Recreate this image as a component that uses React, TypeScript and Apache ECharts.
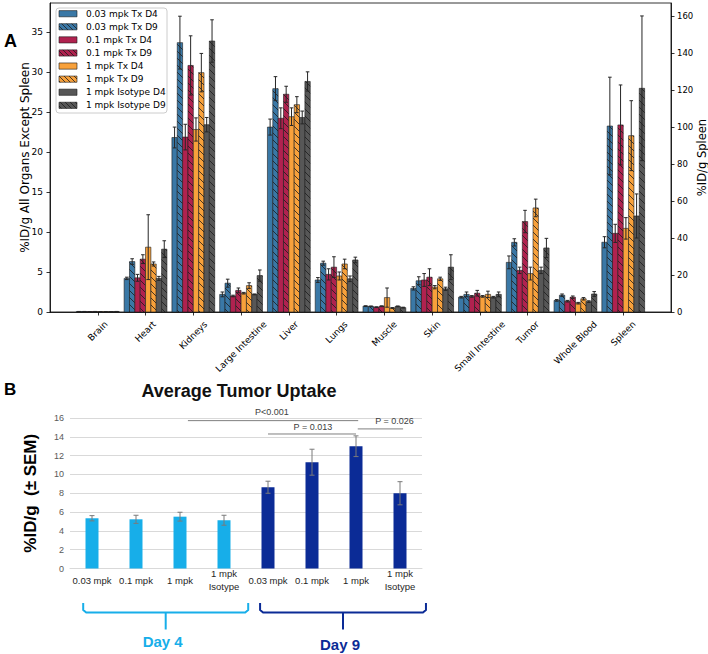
import React, { useEffect, useRef } from 'react';
import * as echarts from 'echarts';

// ---------- Panel A data ----------
const organs = ['Brain', 'Heart', 'Kidneys', 'Large Intestine', 'Liver', 'Lungs', 'Muscle', 'Skin', 'Small Intestine', 'Tumor', 'Whole Blood', 'Spleen'];
const groupNames = ['0.03 mpk Tx D4', '0.03 mpk Tx D9', '0.1 mpk Tx D4', '0.1 mpk Tx D9', '1 mpk Tx D4', '1 mpk Tx D9', '1 mpk Isotype D4', '1 mpk Isotype D9'];

const tx003D4 = [0.06, 4.2, 21.8, 2.2, 23.1, 4.0, 0.73, 2.95, 1.85, 6.2, 1.45, 37.7];
const tx003D4Err = [0.01, 0.15, 1.3, 0.3, 1.0, 0.3, 0.05, 0.2, 0.1, 0.8, 0.1, 3.0];
const tx003D9 = [0.06, 6.3, 33.65, 3.6, 27.9, 6.1, 0.7, 3.9, 2.2, 8.7, 2.1, 100.5];
const tx003D9Err = [0.01, 0.35, 3.3, 0.5, 1.5, 0.25, 0.05, 0.5, 0.3, 0.45, 0.15, 26.4];
const tx01D4 = [0.05, 4.27, 21.85, 2.0, 24.2, 4.7, 0.6, 4.0, 1.95, 5.2, 1.35, 42.5];
const tx01D4Err = [0.01, 0.43, 1.6, 0.1, 1.3, 0.7, 0.05, 0.8, 0.1, 0.4, 0.1, 4.9];
const tx01D9 = [0.06, 6.6, 30.8, 2.7, 27.2, 5.6, 0.72, 4.35, 2.35, 11.3, 1.85, 101.1];
const tx01D9Err = [0.01, 0.55, 3.7, 0.3, 1.0, 1.3, 0.05, 1.05, 0.35, 1.4, 0.15, 21.6];
const tx1D4 = [0.05, 8.1, 22.8, 2.35, 24.4, 4.5, 1.8, 3.1, 1.95, 4.8, 1.1, 45.2];
const tx1D4Err = [0.01, 4.05, 1.45, 0.1, 1.1, 0.5, 1.2, 0.2, 0.1, 0.8, 0.1, 5.8];
const tx1D9 = [0.05, 6.0, 29.9, 3.3, 25.9, 6.0, 0.5, 4.15, 2.2, 13.0, 1.65, 95.3];
const tx1D9Err = [0.01, 0.25, 2.4, 0.35, 1.0, 0.6, 0.05, 0.2, 0.4, 1.1, 0.15, 18.9];
const iso1D4 = [0.05, 4.2, 23.4, 2.2, 24.3, 4.15, 0.7, 2.9, 1.85, 5.2, 1.3, 51.9];
const iso1D4Err = [0.01, 0.25, 0.9, 0.05, 0.8, 0.35, 0.05, 0.2, 0.1, 0.4, 0.1, 11.9];
const iso1D9 = [0.06, 7.85, 33.85, 4.55, 28.8, 6.5, 0.55, 5.6, 2.2, 8.0, 2.25, 120.9];
const iso1D9Err = [0.01, 1.05, 2.65, 0.7, 1.2, 0.35, 0.05, 1.55, 0.3, 1.2, 0.3, 39.1];

const leftAxisMax = 38.6;
const rightAxisMax = 167;

// ---------- Panel B data ----------
const tumorCats = ['0.03 mpk', '0.1 mpk', '1 mpk', '1 mpk\nIsotype', '0.03 mpk', '0.1 mpk', '1 mpk', '1 mpk\nIsotype'];
const tumorDay = [4, 4, 4, 4, 9, 9, 9, 9];
const tumorMeans = [5.34, 5.23, 5.51, 5.13, 8.64, 11.3, 13.0, 8.0];
const tumorSem = [0.28, 0.43, 0.47, 0.53, 0.64, 1.38, 1.1, 1.23];

const sigLabels = ['P<0.001', 'P = 0.013', 'P = 0.026'];
const sigFrom = [2.18, 4.0, 6.04];
const sigTo = [6.05, 6.0, 7.07];
const sigLevel = [15.72, 14.3, 14.84];
const sigTextX = [4.09, 5.02, 6.875];
const sigTextY = [16.6, 15.09, 15.72];

const dayLabels = ['Day 4', 'Day 9'];
const dayFrom = [-0.2, 3.82];
const dayTo = [3.55, 7.59];

// ---------- styles ----------
const groupColors = ['#3a78a6', '#3a78a6', '#b0224f', '#b0224f', '#f8a13b', '#f8a13b', '#575757', '#575757'];
const groupHatched = [false, true, false, true, false, true, false, true];
const day4Color = '#17aee9';
const day9Color = '#0b2b96';
const MPL_FONT = 'DejaVu Sans';
const XL_FONT = 'Liberation Sans';

const groupVals = [tx003D4, tx003D9, tx01D4, tx01D9, tx1D4, tx1D9, iso1D4, iso1D9];
const groupErrs = [tx003D4Err, tx003D9Err, tx01D4Err, tx01D9Err, tx1D4Err, tx1D9Err, iso1D4Err, iso1D9Err];

function hatchLines(x0: number, y0: number, x1: number, y1: number, spacing: number, stroke: string, lw: number) {
  const out: any[] = [];
  const cMin = y0 - x1;
  const cMax = y1 - x0;
  const start = Math.ceil(cMin / spacing) * spacing;
  for (let c = start; c <= cMax; c += spacing) {
    const xs = Math.max(x0, y0 - c);
    const xe = Math.min(x1, y1 - c);
    if (xe - xs > 0.3) {
      out.push({ type: 'line', silent: true, shape: { x1: xs, y1: xs + c, x2: xe, y2: xe + c }, style: { stroke, lineWidth: lw } });
    }
  }
  return out;
}

function renderOrganGroup(params: any, api: any) {
  const cat = api.value(0);
  const unit = api.size([1, 0])[0];
  const bw = unit * 0.112;
  const base = api.coord([cat, 0]);
  const bars: any[] = [];
  const errs: any[] = [];
  for (let j = 0; j < 8; j++) {
    const v = api.value(1 + j);
    const e = api.value(9 + j);
    const cx = base[0] + (j - 3.5) * bw;
    const x0 = cx - bw / 2;
    const x1 = cx + bw / 2;
    const yt = api.coord([cat, v])[1];
    bars.push({ type: 'rect', shape: { x: x0, y: yt, width: bw, height: base[1] - yt }, style: { fill: groupColors[j], stroke: '#1c1c1c', lineWidth: 0.6 } });
    if (groupHatched[j]) bars.push(...hatchLines(x0, yt, x1, base[1], 7, '#1c1c1c', 0.8));
    const yh = api.coord([cat, v + e])[1];
    const yl = api.coord([cat, Math.max(0, v - e)])[1];
    errs.push({ type: 'line', shape: { x1: cx, y1: yh, x2: cx, y2: yl }, style: { stroke: '#262626', lineWidth: 1 } });
    errs.push({ type: 'line', shape: { x1: cx - 1.8, y1: yh, x2: cx + 1.8, y2: yh }, style: { stroke: '#262626', lineWidth: 1 } });
    errs.push({ type: 'line', shape: { x1: cx - 1.8, y1: yl, x2: cx + 1.8, y2: yl }, style: { stroke: '#262626', lineWidth: 1 } });
  }
  return { type: 'group', children: [...bars, ...errs] };
}

function catX(api: any, f: number, y: number) {
  const fl = Math.floor(f);
  const p = api.coord([fl, y]);
  const band = api.size([1, 0])[0];
  return [p[0] + (f - fl) * band, p[1]];
}

export default function App() {
  const ref = useRef<HTMLDivElement>(null);
  useEffect(() => {
    if (!ref.current) return;
    const chart = echarts.init(ref.current, null, { renderer: 'svg' });

    const ctx = document.createElement('canvas').getContext('2d');
    const measure = (t: string) => {
      if (!ctx) return t.length * 5.4;
      ctx.font = `9px "${MPL_FONT}"`;
      return ctx.measureText(t).width;
    };

    const xCats = ['', ...organs, ''];
    const rich: any = {};
    xCats.forEach((c, i) => {
      const L = measure(c);
      const p = (L + 10.5) * 0.5;
      rich['l' + i] = { fontSize: 9, fontFamily: MPL_FONT, color: '#000', padding: [p, p, 0, 0] };
    });

    const organRows = organs.slice(0, 11).map((o, i) => [i + 1, ...groupVals.map((g) => g[i]), ...groupErrs.map((e) => e[i])]);
    const spleenRows = [[12, ...groupVals.map((g) => g[11]), ...groupErrs.map((e) => e[11])]];

    // legend drawn as graphic
    const legendChildren: any[] = [
      { type: 'rect', shape: { x: 0, y: 0, width: 111, height: 105, r: 3 }, style: { fill: 'rgba(255,255,255,0.85)', stroke: '#cccccc', lineWidth: 1 } },
    ];
    groupNames.forEach((name, j) => {
      const cy = 5.7 + j * 13.09;
      legendChildren.push({ type: 'rect', shape: { x: 3, y: cy - 3.1, width: 18, height: 6.2 }, style: { fill: groupColors[j], stroke: '#1c1c1c', lineWidth: 0.6 } });
      if (groupHatched[j]) legendChildren.push(...hatchLines(3, cy - 3.1, 21, cy + 3.1, 5, '#1c1c1c', 0.8));
      legendChildren.push({ type: 'text', x: 30, y: cy, style: { text: name, fontSize: 9, fontFamily: MPL_FONT, fill: '#000', align: 'left', verticalAlign: 'middle' } });
    });

    const option: any = {
      animation: false,
      grid: [
        { left: 50, top: 3, width: 621, height: 309, show: true, borderColor: '#000', borderWidth: 0.8, backgroundColor: 'transparent', containLabel: false, outerBoundsMode: 'none' },
        { left: 70, top: 418, width: 352, height: 150.5, containLabel: false, outerBoundsMode: 'none' },
      ],
      xAxis: [
        {
          type: 'category', gridIndex: 0, data: xCats, boundaryGap: false,
          axisLine: { show: true, lineStyle: { color: '#000', width: 0.8 } },
          axisTick: { show: true, length: 3.5, interval: (i: number, v: string) => v !== '', lineStyle: { color: '#000', width: 0.8 } },
          axisLabel: {
            interval: 0, rotate: 45, align: 'center', verticalAlign: 'middle', margin: 7, hideOverlap: false,
            formatter: (v: string, i: number) => (v ? `{l${i}|${v}}` : ''), rich,
          },
          splitLine: { show: false },
        },
        {
          type: 'category', gridIndex: 1, data: tumorCats,
          axisLine: { show: true, lineStyle: { color: '#d9d9d9', width: 1 } },
          axisTick: { show: false },
          axisLabel: { interval: 0, fontSize: 9.5, fontFamily: XL_FONT, color: '#262626', lineHeight: 13, verticalAlign: 'middle', margin: 11.5 },
        },
      ],
      yAxis: [
        {
          type: 'value', gridIndex: 0, min: 0, max: leftAxisMax, interval: 5, position: 'left',
          name: '%ID/g All Organs Except Spleen', nameLocation: 'middle', nameGap: 19, nameRotate: 90, nameMoveOverlap: false,
          nameTextStyle: { fontSize: 12, fontFamily: MPL_FONT, color: '#000' },
          axisLine: { show: true, lineStyle: { color: '#000', width: 0.8 } },
          axisTick: { show: true, length: 3.5, lineStyle: { color: '#000', width: 0.8 } },
          axisLabel: { fontSize: 9, fontFamily: MPL_FONT, color: '#000', margin: 7, showMaxLabel: false },
          splitLine: { show: false },
        },
        {
          type: 'value', gridIndex: 0, min: 0, max: rightAxisMax, interval: 20, position: 'right',
          name: '%ID/g Spleen', nameLocation: 'middle', nameGap: 25, nameRotate: 90, nameMoveOverlap: false,
          nameTextStyle: { fontSize: 11.5, fontFamily: MPL_FONT, color: '#000' },
          axisLine: { show: true, lineStyle: { color: '#000', width: 0.8 } },
          axisTick: { show: true, length: 3.5, lineStyle: { color: '#000', width: 0.8 } },
          axisLabel: { fontSize: 8.5, fontFamily: MPL_FONT, color: '#000', margin: 6, showMaxLabel: false },
          splitLine: { show: false },
        },
        {
          type: 'value', gridIndex: 1, min: 0, max: 16, interval: 2,
          name: '%ID/g  (± SEM)', nameLocation: 'middle', nameGap: 31, nameRotate: 90, nameMoveOverlap: false,
          nameTextStyle: { fontSize: 17, fontWeight: 'bold', fontFamily: XL_FONT, color: '#000' },
          axisLine: { show: false }, axisTick: { show: false },
          axisLabel: { fontSize: 9, fontFamily: XL_FONT, color: '#595959', margin: 6 },
          splitLine: { show: true, lineStyle: { color: '#d9d9d9', width: 1 } },
        },
      ],
      series: [
        {
          type: 'custom', name: 'organs', xAxisIndex: 0, yAxisIndex: 0, data: organRows,
          encode: { x: 0, y: [1, 2, 3, 4, 5, 6, 7, 8] }, renderItem: renderOrganGroup, clip: false,
        },
        {
          type: 'custom', name: 'spleen', xAxisIndex: 0, yAxisIndex: 1, data: spleenRows,
          encode: { x: 0, y: [1, 2, 3, 4, 5, 6, 7, 8] }, renderItem: renderOrganGroup, clip: false,
        },
        {
          type: 'bar', name: 'Average Tumor Uptake', xAxisIndex: 1, yAxisIndex: 2, barWidth: 13,
          data: tumorMeans.map((v, i) => ({ value: v, itemStyle: { color: tumorDay[i] === 4 ? day4Color : day9Color } })),
        },
        {
          type: 'custom', name: 'sem', xAxisIndex: 1, yAxisIndex: 2,
          data: tumorMeans.map((v, i) => [i, v, tumorSem[i]]), encode: { x: 0, y: 1 }, z: 5,
          renderItem: (params: any, api: any) => {
            const i = api.value(0);
            const v = api.value(1);
            const e = api.value(2);
            const hi = api.coord([i, v + e]);
            const lo = api.coord([i, v - e]);
            const s = { stroke: '#7a7a7a', lineWidth: 1 };
            return {
              type: 'group', children: [
                { type: 'line', shape: { x1: hi[0], y1: hi[1], x2: lo[0], y2: lo[1] }, style: s },
                { type: 'line', shape: { x1: hi[0] - 2.5, y1: hi[1], x2: hi[0] + 2.5, y2: hi[1] }, style: s },
                { type: 'line', shape: { x1: lo[0] - 2.5, y1: lo[1], x2: lo[0] + 2.5, y2: lo[1] }, style: s },
              ],
            };
          },
        },
        {
          type: 'custom', name: 'significance', xAxisIndex: 1, yAxisIndex: 2, clip: false, z: 6,
          data: sigLevel.map((lv, i) => [0, lv, sigFrom[i], sigTo[i], sigTextX[i], sigTextY[i]]),
          encode: { x: 0, y: 1 },
          renderItem: (params: any, api: any) => {
            const i = params.dataIndex;
            const lv = api.value(1);
            const a = catX(api, api.value(2), lv);
            const b = catX(api, api.value(3), lv);
            const t = catX(api, api.value(4), api.value(5));
            return {
              type: 'group', children: [
                { type: 'line', shape: { x1: a[0], y1: a[1], x2: b[0], y2: b[1] }, style: { stroke: '#7f7f7f', lineWidth: 1 } },
                { type: 'text', x: t[0], y: t[1], style: { text: sigLabels[i], align: 'center', verticalAlign: 'middle', fontSize: 9, fontFamily: XL_FONT, fill: '#404040' } },
              ],
            };
          },
        },
        {
          type: 'custom', name: 'days', xAxisIndex: 1, yAxisIndex: 2, clip: false, z: 6,
          data: dayFrom.map((f, i) => [0, 0, f, dayTo[i]]), encode: { x: 0, y: 1 },
          renderItem: (params: any, api: any) => {
            const i = params.dataIndex;
            const color = i === 0 ? day4Color : day9Color;
            const p0 = catX(api, api.value(2), 0);
            const p1 = catX(api, api.value(3), 0);
            const y0 = p0[1];
            const xl = p0[0];
            const xr = p1[0];
            const xm = (xl + xr) / 2;
            const s = { stroke: color, lineWidth: 2, fill: 'none', lineJoin: 'round' };
            return {
              type: 'group', children: [
                { type: 'polyline', shape: { points: [[xl, y0 + 34.5], [xl, y0 + 41.5], [xl + 3, y0 + 44], [xr - 3, y0 + 44], [xr, y0 + 41.5], [xr, y0 + 34.5]] }, style: s },
                { type: 'line', shape: { x1: xm, y1: y0 + 44, x2: xm, y2: y0 + 61 }, style: s },
                { type: 'text', x: xm - 3, y: y0 + 73 + i * 2.5, style: { text: dayLabels[i], align: 'center', verticalAlign: 'middle', fontSize: 15, fontWeight: 'bold', fontFamily: XL_FONT, fill: color } },
              ],
            };
          },
        },
      ],
      graphic: [
        { type: 'group', x: 56, y: 8, z: 10, children: legendChildren },
        { type: 'text', x: 4, y: 40.5, style: { text: 'A', fontSize: 18, fontWeight: 'bold', fontFamily: XL_FONT, fill: '#000', align: 'left', verticalAlign: 'middle' } },
        { type: 'text', x: 4, y: 389, style: { text: 'B', fontSize: 17, fontWeight: 'bold', fontFamily: XL_FONT, fill: '#000', align: 'left', verticalAlign: 'middle' } },
        { type: 'text', x: 239, y: 390.5, style: { text: 'Average Tumor Uptake', fontSize: 18, fontWeight: 'bold', fontFamily: XL_FONT, fill: '#111', align: 'center', verticalAlign: 'middle' } },
      ],
    };

    chart.setOption(option);
    return () => chart.dispose();
  }, []);
  return <div ref={ref} style={{ width: 708, height: 654, position: 'absolute', left: 0, top: 0 }} />;
}
